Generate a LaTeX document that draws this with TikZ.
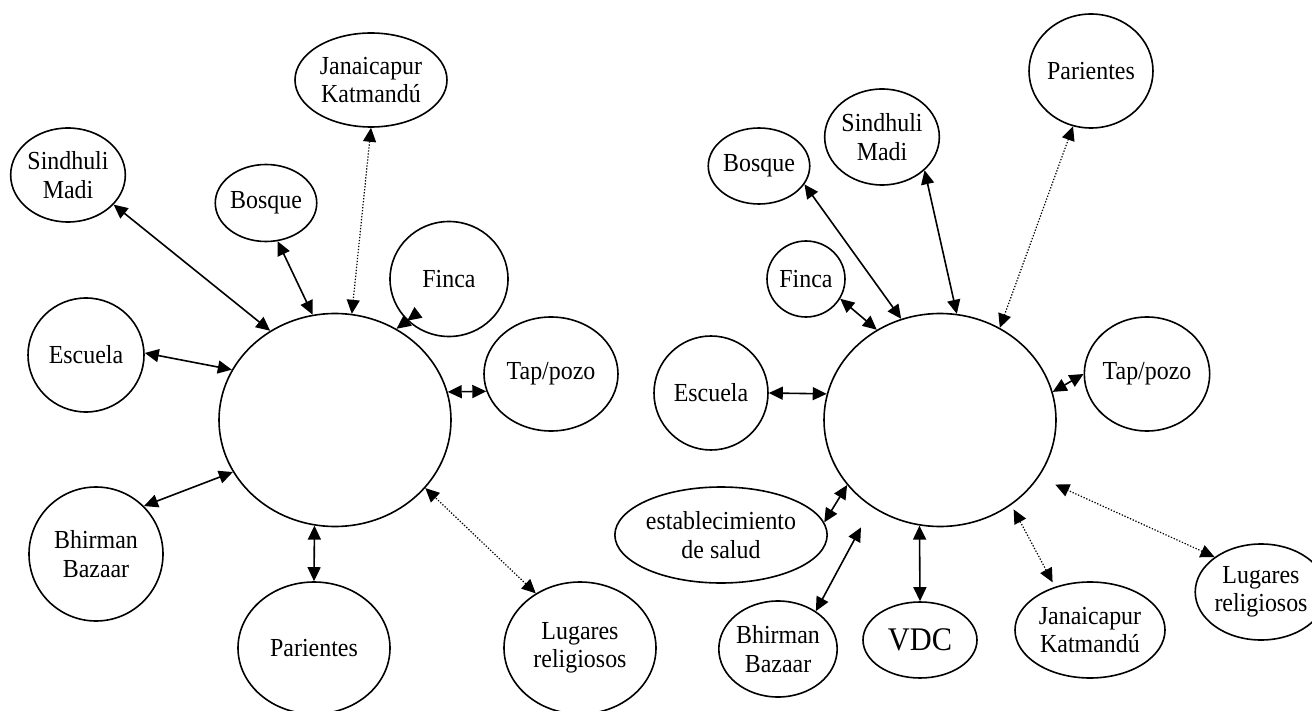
\documentclass[tikz,border=0pt]{standalone}
\usepackage{fontspec}
\setmainfont{Liberation Serif}[FakeStretch=0.92]
\usetikzlibrary{shapes.geometric,arrows.meta}
\tikzset{
  place/.style={draw, ellipse, line width=1.6pt, inner sep=0pt, align=center, font=\fontsize{26}{28.5}\selectfont},
  tw/.style={line width=1.6pt, {Triangle[length=14pt,width=13pt]}-{Triangle[length=14pt,width=13pt]}},
  tdot/.style={line width=1.2pt, dash pattern=on 1.3pt off 1.7pt, {Triangle[length=14pt,width=13pt]}-{Triangle[length=14pt,width=13pt]}},
}
\begin{document}
\begin{tikzpicture}[x=1pt,y=-1pt]
\useasboundingbox (0,0) rectangle (1312,711);
\clip (0,0) rectangle (1312,711);
% left diagram
\node[place, minimum width=152, minimum height=94] (jkL) at (371,80) {Janaicapur\\Katmandú};
\node[place, minimum width=114, minimum height=94] (sdL) at (68,175) {Sindhuli\\Madi};
\node[place, minimum width=96, minimum height=77] (bqL) at (266,203) {Bosque};
\node[place, minimum width=118, minimum height=115] (fcL) at (449,279) {Finca};
\node[place, minimum width=232, minimum height=213] (cL) at (335,420) {};
\node[place, minimum width=116, minimum height=114] (esL) at (86,355) {Escuela};
\node[place, minimum width=134, minimum height=114] (tpL) at (551,374) {Tap/pozo};
\node[place, minimum width=134, minimum height=134] (bbL) at (96,554) {Bhirman\\Bazaar};
\node[place, minimum width=152, minimum height=132] (paL) at (314,648) {\raisebox{-8pt}{Parientes}};
\node[place, minimum width=152, minimum height=132] (lgL) at (580,648) {Lugares\\religiosos};
\draw[tw] (sdL.-33) -- (cL.126);
\draw[tw] (bqL.-73) -- (cL.102);
\draw[tdot] (jkL.-90) -- (cL.81);
\draw[tw] (fcL.-135) -- (cL.56);
\draw[tw] (esL.2) -- (cL.154);
\draw[tw] (tpL.-165) -- (cL.14);
\draw[tw] (bbL.45) -- (cL.-153);
\draw[tw] (paL.90) -- (cL.-101);
\draw[tdot] (lgL.129) -- (cL.-37);
% right diagram
\node[place, minimum width=114, minimum height=114] (paR) at (1091,71) {Parientes};
\node[place, minimum width=114, minimum height=96] (sdR) at (882,137) {Sindhuli\\Madi};
\node[place, minimum width=96, minimum height=76] (bqR) at (759,166) {Bosque};
\node[place, minimum width=78, minimum height=76] (fcR) at (806,279) {Finca};
\node[place, minimum width=232, minimum height=213] (cR) at (940,420) {};
\node[place, minimum width=112, minimum height=114] (tpR) at (1147,374) {Tap/pozo};
\node[place, minimum width=114, minimum height=114] (esR) at (711,393) {Escuela};
\node[place, minimum width=172, minimum height=96] (slR) at (721,535) {establecimiento\\de salud};
\node[place, minimum width=96, minimum height=96] (bbR) at (778,649) {Bhirman\\Bazaar};
\node[place, minimum width=114, minimum height=76, font=\fontsize{33}{36}\selectfont] (vdR) at (920,640) {VDC};
\node[place, minimum width=150, minimum height=96] (jkR) at (1090,630) {Janaicapur\\Katmandú};
\node[place, minimum width=114, minimum height=96] (lgR) at (1261,592) {Lugares\\religiosos};
\draw[tw] (fcR.-30) -- (cR.125);
\draw[tw] (bqR.-22) -- (cR.111);
\draw[tw] (sdR.-38) -- (cR.81);
\draw[tdot] (paR.-108) -- (cR.57);
\draw[tw] (esR.0) -- (cR.167);
\draw[tw] (tpR.180) -- (cR.14);
\draw[tw] (slR.7) -- (cR.-145);
\draw[tw, shorten >=23pt] (bbR.45) -- (cR.-128);
\draw[tw] (vdR.90) -- (cR.-101);
\draw[tdot, shorten <=5pt, shorten >=5pt] (cR.-50) -- (jkR.129);
\draw[tdot, shorten >=18pt] (lgR.143) -- (cR.-30);
\end{tikzpicture}
\end{document}
